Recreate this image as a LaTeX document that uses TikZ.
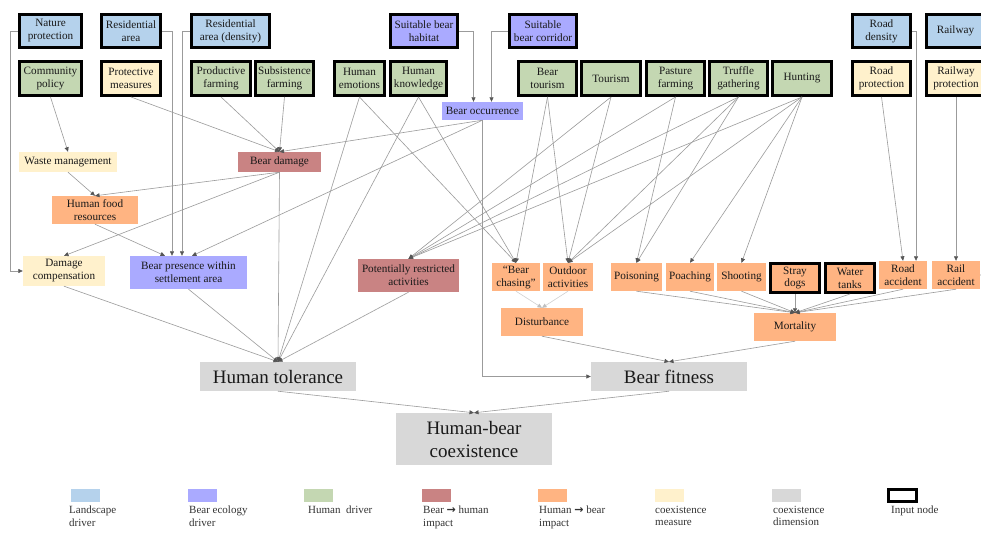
\documentclass[tikz,border=0pt]{standalone}
\usepackage{fontspec}
\setmainfont{Liberation Serif}
\newfontfamily\symfont{DejaVu Sans}
\usetikzlibrary{arrows.meta,calc}
\definecolor{land}{RGB}{181,210,236}
\definecolor{beco}{RGB}{170,170,255}
\definecolor{hdrv}{RGB}{196,215,178}
\definecolor{bimp}{RGB}{201,131,131}
\definecolor{himp}{RGB}{255,180,130}
\definecolor{cmeas}{RGB}{255,241,204}
\definecolor{cdim}{RGB}{216,216,216}
\definecolor{edgec}{RGB}{155,155,155}
\definecolor{tipc}{RGB}{85,85,85}
\begin{document}
\begin{tikzpicture}[x=1pt,y=-1pt,
 box/.style={rectangle,inner sep=0pt,align=center,font=\fontsize{11.2}{13}\selectfont,text=black!90},
 inp/.style={draw=black,line width=3pt},
 sz/.style 2 args={minimum width=#1pt,minimum height=#2pt},
 edge/.style={draw=edgec,line width=0.6pt,-{Triangle[length=4.5pt,width=4pt,color=tipc]}},
 ledge/.style={draw=black!18,line width=0.6pt,-{Triangle[length=4.5pt,width=4pt,color=black!25]}},
 big/.style={font=\fontsize{19}{23}\selectfont},
 leg/.style={anchor=north west,inner sep=0pt,align=left,font=\fontsize{11}{12.5}\selectfont,text=black!80},
 sw/.style={minimum width=29pt,minimum height=13pt,inner sep=0pt}]
\useasboundingbox[fill=white] (0,0) rectangle (981,534);

% row 1
\node[box,inp,fill=land,sz={62}{33}] (np) at (50.5,31) {Nature\\protection};
\node[box,inp,fill=land,sz={59}{33}] (ra) at (131,31) {Residential\\area};
\node[box,inp,fill=land,sz={78}{33}] (rad) at (230.5,31) {Residential\\area (density)};
\node[box,inp,fill=beco,sz={67}{33}] (sbh) at (424,31) {Suitable bear\\habitat};
\node[box,inp,fill=beco,sz={67}{33}] (sbc) at (543,31) {Suitable\\bear corridor};
\node[box,inp,fill=land,sz={58}{33}] (rd) at (881.5,31) {Road\\density};
\node[box,inp,fill=land,sz={58}{33}] (rw) at (955.5,31) {Railway};

% row 2
\node[box,inp,fill=hdrv,sz={62}{34}] (cp) at (50.5,78.5) {Community\\policy};
\node[box,inp,fill=cmeas,sz={59}{34}] (pm) at (131,78.5) {Protective\\measures};
\node[box,inp,fill=hdrv,sz={59}{34}] (pf) at (221,78.5) {Productive\\farming};
\node[box,inp,fill=hdrv,sz={58}{34}] (sf) at (284.5,78.5) {Subsistence\\farming};
\node[box,inp,fill=hdrv,sz={50}{34}] (he) at (359.5,78.5) {Human\\emotions};
\node[box,inp,fill=hdrv,sz={56}{34}] (hk) at (418.5,78.5) {Human\\knowledge};
\node[box,inp,fill=hdrv,sz={58}{34}] (bt) at (547.5,78.5) {Bear\\tourism};
\node[box,inp,fill=hdrv,sz={59}{34}] (tour) at (611,78.5) {Tourism};
\node[box,inp,fill=hdrv,sz={58}{34}] (pa) at (675.5,78.5) {Pasture\\farming};
\node[box,inp,fill=hdrv,sz={58}{34}] (tg) at (738.5,78.5) {Truffle\\gathering};
\node[box,inp,fill=hdrv,sz={59}{34}] (hu) at (802,78.5) {Hunting};
\node[box,inp,fill=cmeas,sz={58}{34}] (rp) at (881.5,78.5) {Road\\protection};
\node[box,inp,fill=cmeas,sz={59}{34}] (rwp) at (956,78.5) {Railway\\protection};

% middle
\node[box,fill=beco,sz={81}{18}] (bo) at (482.5,111) {Bear occurrence};
\node[box,fill=cmeas,sz={98}{20}] (wm) at (68,162) {Waste management};
\node[box,fill=bimp,sz={83}{20}] (bd) at (279.5,162) {Bear damage};
\node[box,fill=himp,sz={86}{28}] (hf) at (95,210) {Human food\\resources};
\node[box,fill=cmeas,sz={82}{30}] (dc) at (64,271) {Damage\\compensation};
\node[box,fill=beco,sz={117}{33}] (bp) at (188.5,272.5) {Bear presence within\\settlement area};
\node[box,fill=bimp,sz={101}{33}] (pra) at (408.5,275.5) {Potentially restricted\\activities};
\node[box,fill=himp,sz={48}{28}] (bc) at (516,277) {“Bear\\chasing”};
\node[box,fill=himp,sz={50}{28}] (oa) at (568,277) {Outdoor\\activities};
\node[box,fill=himp,sz={51}{28}] (po) at (636.5,277) {Poisoning};
\node[box,fill=himp,sz={48}{28}] (pc) at (690,277) {Poaching};
\node[box,fill=himp,sz={49}{28}] (sh) at (741.5,277) {Shooting};
\node[box,inp,fill=himp,sz={49}{29}] (sd) at (795,278) {Stray\\dogs};
\node[box,inp,fill=himp,sz={49}{29}] (wt) at (850,278) {Water\\tanks};
\node[box,fill=himp,sz={48}{28}] (rac) at (903,275) {Road\\accident};
\node[box,fill=himp,sz={48}{28}] (rlc) at (956,275) {Rail\\accident};
\node[box,fill=himp,sz={82}{28}] (dist) at (542,322) {Disturbance};
\node[box,fill=himp,sz={82}{28}] (mort) at (795,327) {Mortality};
\node[box,big,fill=cdim,sz={156}{29}] (ht) at (278,376.5) {Human tolerance};
\node[box,big,fill=cdim,sz={156}{29}] (bf) at (669,376.5) {Bear fitness};
\node[box,big,fill=cdim,sz={156}{52}] (hbc) at (474,439) {Human-bear\\coexistence};

% bend points
\coordinate (npk) at (10,31);
\coordinate (rak) at (172,31);
\coordinate (radk) at (182,31);
\coordinate (sbhk) at (473.5,31);
\coordinate (sbck) at (491.5,31);
\coordinate (rdk) at (916,31);
\coordinate (rwk) at (994,31);

% elbow edges
\draw[edge] (np.west) -- (npk) |- (dc.west);
\draw[edge] (ra.east) -- (rak) -- (rak |- bp.north);
\draw[edge] (rad.west) -- (radk) -- (radk |- bp.north);
\draw[edge] (sbh.east) -- (sbhk) -- (sbhk |- bo.north);
\draw[edge] (sbc.west) -- (sbck) -- (sbck |- bo.north);
\draw[edge] (rd.east) -- (rdk) -- (rdk |- rac.north);
\draw[edge] (rw.east) -- (rwk) |- (rlc.east);
\draw[edge] (bo.south) |- (bf.west);

% straight edges
\draw[edge] (cp.south) -- (wm.north);
\draw[edge] (pm.south) -- (bd.north);
\draw[edge] (pf.south) -- (bd.north);
\draw[edge] (sf.south) -- (bd.north);
\draw[edge] (he.south) -- (ht.north);
\draw[edge] (he.south) -- (bc.north);
\draw[edge] (hk.south) -- (ht.north);
\draw[edge] (hk.south) -- (bc.north);
\draw[edge] (bo.south) -- (bd.north);
\draw[edge] (bo.south) -- ($(bp.north)+(3.5,0)$);
\draw[edge] (bt.south) -- (bc.north);
\draw[edge] (bt.south) -- (oa.north);
\draw[edge] (tour.south) -- (oa.north);
\draw[edge] (tour.south) -- (pra.north);
\draw[edge] (pa.south) -- (pra.north);
\draw[edge] (pa.south) -- (po.north);
\draw[edge] (tg.south) -- (pra.north);
\draw[edge] (tg.south) -- (oa.north);
\draw[edge] (tg.south) -- (po.north);
\draw[edge] (hu.south) -- (pra.north);
\draw[edge] (hu.south) -- (oa.north);
\draw[edge] (hu.south) -- (pc.north);
\draw[edge] (hu.south) -- (sh.north);
\draw[edge] (rp.south) -- (rac.north);
\draw[edge] (rwp.south) -- (rlc.north);
\draw[edge] (wm.south) -- (hf.north);
\draw[edge] (bd.south) -- (hf.north);
\draw[edge] (bd.south) -- (dc.north);
\draw[edge] (bd.south) -- (ht.north);
\draw[edge] (hf.south) -- ($(bp.north)+(-23.5,0)$);
\draw[edge] (dc.south) -- (ht.north);
\draw[edge] (bp.south) -- (ht.north);
\draw[edge] (pra.south) -- (ht.north);
\draw[ledge] (bc.south) -- (dist.north);
\draw[ledge] (oa.south) -- (dist.north);
\foreach \s in {po,pc,sh,sd,wt,rac,rlc} \draw[edge] (\s.south) -- (mort.north);
\draw[edge] (dist.south) -- (bf.north);
\draw[edge] (mort.south) -- (bf.north);
\draw[edge] (ht.south) -- (hbc.north);
\draw[edge] (bf.south) -- (hbc.north);

% legend
\node[sw,fill=land] (l1) at (85.5,495.5) {};
\node[sw,fill=beco] (l2) at (202.5,495.5) {};
\node[sw,fill=hdrv] (l3) at (318.5,495.5) {};
\node[sw,fill=bimp] (l4) at (436,495.5) {};
\node[sw,fill=himp] (l5) at (552.5,495.5) {};
\node[sw,fill=cmeas] (l6) at (669.5,495.5) {};
\node[sw,fill=cdim] (l7) at (786.5,495.5) {};
\node[inp,fill=white,minimum width=28pt,minimum height=12pt,inner sep=0pt] (l8) at (902.5,495.5) {};
\node[leg] (t1) at (69,506) {Landscape\\driver};
\node[leg] (t2) at (189,506) {Bear ecology\\driver};
\node[leg] (t3) at (308,506) {Human\ \ driver};
\node[leg] (t4) at (423,506) {Bear {\symfont\bfseries\fontsize{11}{12.5}\selectfont →} human\\impact};
\node[leg] (t5) at (539,506) {Human {\symfont\bfseries\fontsize{11}{12.5}\selectfont →} bear\\impact};
\node[leg] (t6) at (655,506) {coexistence\\measure};
\node[leg] (t7) at (773,506) {coexistence\\dimension};
\node[leg] (t8) at (891,506) {Input node};
\end{tikzpicture}
\end{document}
